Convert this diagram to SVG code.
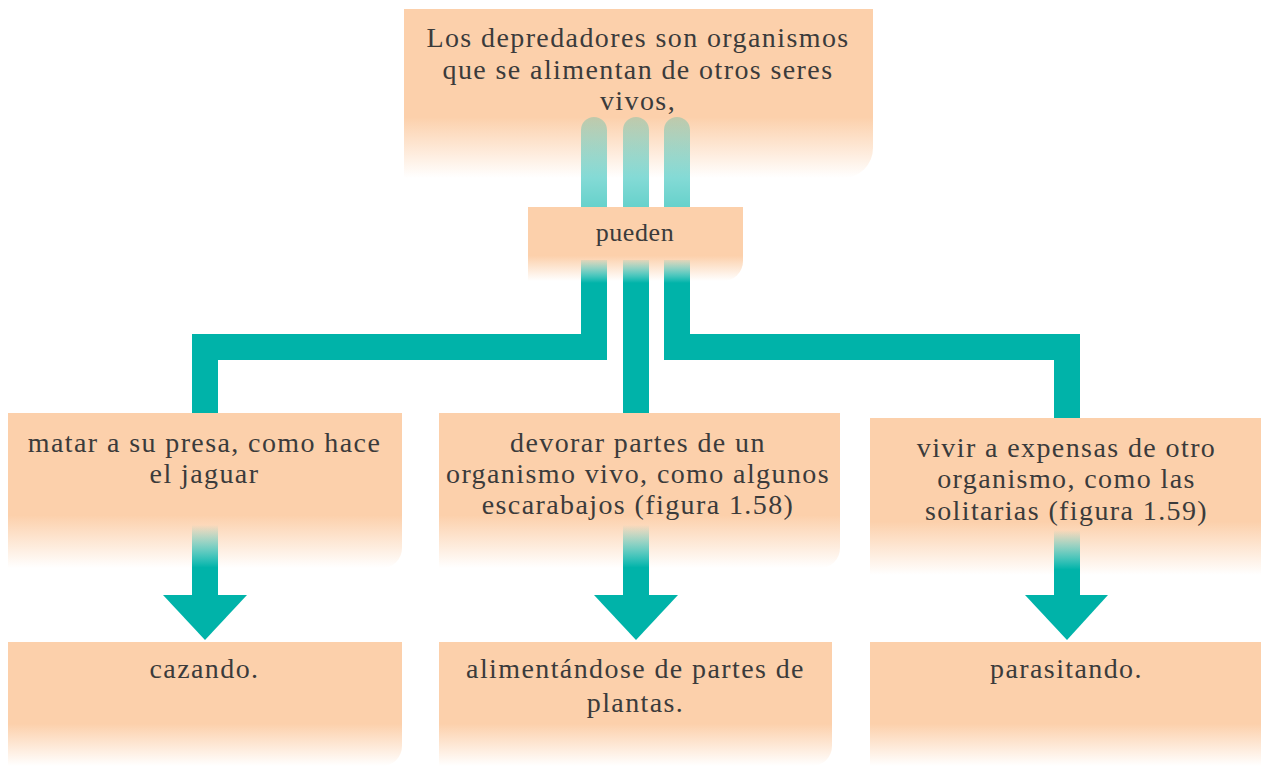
<svg xmlns="http://www.w3.org/2000/svg" width="1261" height="766" viewBox="0 0 1261 766">
<defs>
<linearGradient id="fadeTop" x1="0" y1="0" x2="0" y2="1"><stop offset="0" stop-color="#fcd0ab"/><stop offset="0.64" stop-color="#fcd0ab"/><stop offset="1" stop-color="#fcd0ab" stop-opacity="0"/></linearGradient>
<linearGradient id="fadeBox" x1="0" y1="0" x2="0" y2="1"><stop offset="0" stop-color="#fcd0ab"/><stop offset="0.66" stop-color="#fcd0ab"/><stop offset="1" stop-color="#fcd0ab" stop-opacity="0"/></linearGradient>
<linearGradient id="topBars" gradientUnits="userSpaceOnUse" x1="0" y1="117" x2="0" y2="207"><stop offset="0" stop-color="#00b3a9" stop-opacity="0.24"/><stop offset="0.5" stop-color="#00b3a9" stop-opacity="0.42"/><stop offset="1" stop-color="#00b3a9" stop-opacity="0.6"/></linearGradient>
<linearGradient id="lowBars" gradientUnits="userSpaceOnUse" x1="0" y1="260" x2="0" y2="283"><stop offset="0" stop-color="#00b3a9" stop-opacity="0.1"/><stop offset="1" stop-color="#00b3a9"/></linearGradient>
<linearGradient id="shaft" x1="0" y1="0" x2="0" y2="1"><stop offset="0" stop-color="#00b3a9" stop-opacity="0"/><stop offset="0.6" stop-color="#00b3a9"/><stop offset="1" stop-color="#00b3a9"/></linearGradient>
<style>
.box{fill:url(#fadeBox)}
.t{font-family:"Liberation Serif","Times New Roman",serif;font-size:28px;letter-spacing:1.4px;fill:#3b3b3b;text-anchor:middle}
.teal{fill:#00b3a9}
.elbow{fill:none;stroke:url(#lowBars);stroke-width:26;stroke-linejoin:miter}
</style>
</defs>
<g id="node-top">
<path d="M404,9 H873 V148 A30,30 0 0 1 843,178 H404 Z" fill="url(#fadeTop)"/>
<text class="t" x="638" y="47">Los depredadores son organismos</text>
<text class="t" x="638" y="79">que se alimentan de otros seres</text>
<text class="t" x="638" y="110">vivos,</text>
</g>
<g id="node-pueden">
<path d="M528,207 H743 V261 A20,20 0 0 1 723,281 H528 Z" class="box"/>
<text class="t" x="635" y="241" style="font-size:26px;letter-spacing:0.6px">pueden</text>
</g>
<g id="node-matar">
<path d="M8,413 H402 V548 A20,20 0 0 1 382,568 H8 Z" class="box"/>
<text class="t" x="204.5" y="452">matar a su presa, como hace</text>
<text class="t" x="204.5" y="483">el jaguar</text>
</g>
<g id="node-devorar">
<path d="M439,413 H840 V548 A20,20 0 0 1 820,568 H439 Z" class="box"/>
<text class="t" x="638" y="452">devorar partes de un</text>
<text class="t" x="638" y="483">organismo vivo, como algunos</text>
<text class="t" x="638" y="514">escarabajos (figura 1.58)</text>
</g>
<g id="node-vivir">
<path d="M870,418 H1261 V575 H870 Z" class="box"/>
<text class="t" x="1066.5" y="457">vivir a expensas de otro</text>
<text class="t" x="1066.5" y="488">organismo, como las</text>
<text class="t" x="1066.5" y="520">solitarias (figura 1.59)</text>
</g>
<g id="node-cazando">
<path d="M8,642 H402 V746 A20,20 0 0 1 382,766 H8 Z" class="box"/>
<text class="t" x="204.5" y="678">cazando.</text>
</g>
<g id="node-alimentandose">
<path d="M439,642 H832 V746 A20,20 0 0 1 812,766 H439 Z" class="box"/>
<text class="t" x="635.5" y="678">alimentándose de partes de</text>
<text class="t" x="635.5" y="712">plantas.</text>
</g>
<g id="node-parasitando">
<path d="M870,642 H1261 V766 H870 Z" class="box"/>
<text class="t" x="1066.5" y="678">parasitando.</text>
</g>
<g id="connectors">
<path d="M581,207 V130 A13,13 0 0 1 607,130 V207 Z" fill="url(#topBars)"/>
<path d="M623,207 V130 A13,13 0 0 1 649,130 V207 Z" fill="url(#topBars)"/>
<path d="M664,207 V130 A13,13 0 0 1 690,130 V207 Z" fill="url(#topBars)"/>
<path class="elbow" d="M594,260 V347 H205 V413"/>
<path class="elbow" d="M636,260 V413"/>
<path class="elbow" d="M677,260 V347 H1067 V418"/>
<rect x="192" y="525" width="26" height="71" fill="url(#shaft)"/>
<polygon class="teal" points="163,595 247,595 205,640"/>
<rect x="623" y="525" width="26" height="71" fill="url(#shaft)"/>
<polygon class="teal" points="594,595 678,595 636,640"/>
<rect x="1054" y="530" width="26" height="66" fill="url(#shaft)"/>
<polygon class="teal" points="1025,595 1108,595 1067,640"/>
</g>
</svg>
